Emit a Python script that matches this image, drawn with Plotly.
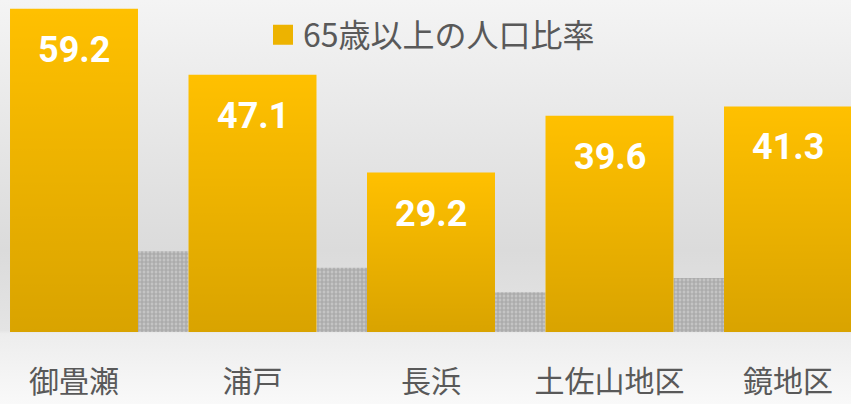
import base64
import plotly.graph_objects as go

# ---- data ----
categories = ["御畳瀬", "浦戸", "長浜", "土佐山地区", "鏡地区"]
values = [59.2, 47.1, 29.2, 39.6, 41.3]
series_name = "65歳以上の人口比率"

# ---- style ----
BAR_COLOR = "#FFC000"
BAR_WIDTH = 0.717
SHADOW_SCALE = 0.25          # perspective-shadow length relative to bar
TEXT_GRAY = "#595959"
CJK_FONT = "Noto Sans CJK JP"
positions = list(range(len(categories)))


def svg_uri(svg):
    return "data:image/svg+xml;base64," + base64.b64encode(svg.encode("utf-8")).decode()


bg_svg = (
    "<svg xmlns='http://www.w3.org/2000/svg' width='10' height='404' viewBox='0 0 10 404' "
    "preserveAspectRatio='none'><defs><linearGradient id='g' x1='0' y1='0' x2='0' y2='1'>"
    "<stop offset='0' stop-color='#F4F4F4'/>"
    "<stop offset='0.62' stop-color='#DBDBDB'/>"
    "<stop offset='0.818' stop-color='#E4E4E4'/>"
    "<stop offset='0.826' stop-color='#EDEDED'/>"
    "<stop offset='1' stop-color='#F9F9F9'/>"
    "</linearGradient></defs><rect width='10' height='404' fill='url(#g)'/></svg>"
)

bar_shade_svg = (
    "<svg xmlns='http://www.w3.org/2000/svg' width='10' height='100' viewBox='0 0 10 100' "
    "preserveAspectRatio='none'><defs><linearGradient id='s' x1='0' y1='0' x2='0' y2='1'>"
    "<stop offset='0' stop-color='#000000' stop-opacity='0'/>"
    "<stop offset='1' stop-color='#000000' stop-opacity='0.15'/>"
    "</linearGradient></defs><rect width='10' height='100' fill='url(#s)'/></svg>"
)

fig = go.Figure()

# soft shadow behind each bar
fig.add_trace(go.Bar(
    x=positions,
    y=[v * SHADOW_SCALE for v in values],
    width=1 - BAR_WIDTH,
    offset=BAR_WIDTH / 2,
    marker=dict(
        color="#C2C2C2",
        line=dict(width=0),
        pattern=dict(shape="+", fgcolor="#888888", bgcolor="#C4C4C4", size=4, solidity=0.5),
    ),
    showlegend=False,
    hoverinfo="skip",
))

# main bars
fig.add_trace(go.Bar(
    x=positions,
    y=values,
    width=BAR_WIDTH,
    offset=-BAR_WIDTH / 2,
    marker=dict(color=BAR_COLOR, line=dict(width=0)),
    name=series_name,
    showlegend=False,
))

# legend entry
fig.add_trace(go.Scatter(
    x=[None], y=[None], mode="markers", name=series_name,
    marker=dict(symbol="square", size=16, color="#EDB300", line=dict(color="#EDB300", width=4)),
))

images = [dict(
    source=svg_uri(bg_svg), xref="paper", yref="paper", x=0, y=1,
    sizex=1, sizey=404 / 332, xanchor="left", yanchor="top",
    sizing="stretch", layer="below",
)]
for p, v in zip(positions, values):
    images.append(dict(
        source=svg_uri(bar_shade_svg), xref="x", yref="y",
        x=p - BAR_WIDTH / 2, y=v, sizex=BAR_WIDTH, sizey=v,
        xanchor="left", yanchor="top", sizing="stretch", layer="above",
    ))

annotations = []
for p, v in zip(positions, values):
    annotations.append(dict(
        x=p, y=v, xref="x", yref="y", text=f"{v:.1f}", showarrow=False,
        yanchor="middle", yshift=-41,
        font=dict(family="Roboto", size=36, color="white", weight="bold"),
    ))

fig.update_layout(
    width=851, height=404,
    margin=dict(l=0, r=0, t=0, b=72, pad=0),
    paper_bgcolor="#EEEEEE",
    plot_bgcolor="rgba(0,0,0,0)",
    barmode="overlay",
    images=images,
    annotations=annotations,
    showlegend=True,
    legend=dict(
        x=263 / 851, xanchor="left", y=1 - 35 / 332, yanchor="middle",
        orientation="h", bgcolor="rgba(0,0,0,0)",
        font=dict(family=CJK_FONT, size=32, color=TEXT_GRAY),
    ),
    xaxis=dict(
        range=[-74 / 178.5, 4 + 63 / 178.5],
        tickmode="array", tickvals=positions, ticktext=categories,
        showgrid=False, zeroline=False, showline=False, ticks="",
        tickfont=dict(family=CJK_FONT, size=30, color=TEXT_GRAY),
        ticklabelstandoff=29, automargin=False, fixedrange=True,
    ),
    yaxis=dict(
        range=[0, 60.8], visible=False, showgrid=False, zeroline=False,
        automargin=False, fixedrange=True,
    ),
)

fig.write_html(
    "out.html",
    config={"displayModeBar": False},
    post_script="document.body.style.margin='0';document.body.style.overflow='hidden';",
)
